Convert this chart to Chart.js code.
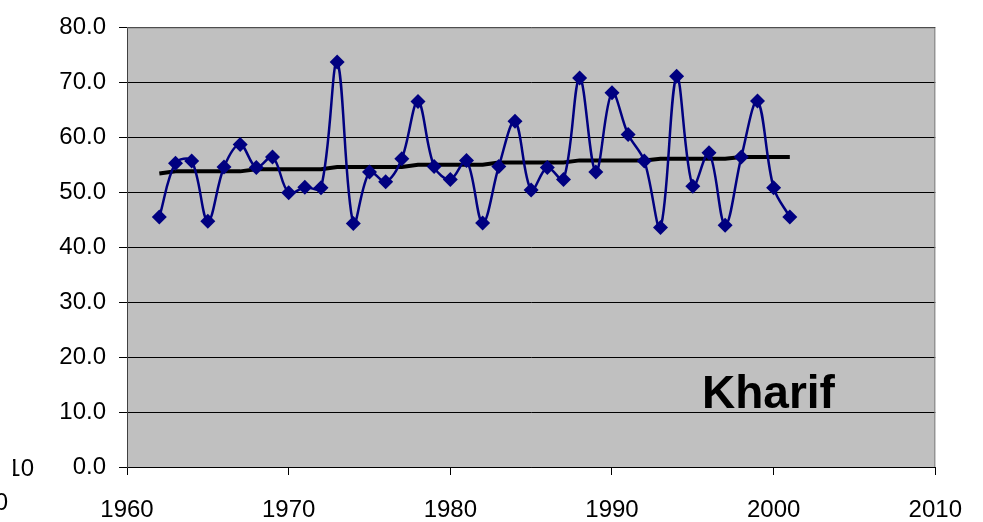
<!DOCTYPE html>
<html>
<head>
<meta charset="utf-8">
<script src="https://cdn.jsdelivr.net/npm/chart.js@4/dist/chart.umd.min.js"></script>
<style>
  html, body { margin: 0; padding: 0; background: #fff; }
  #wrap { width: 983px; height: 522px; }
</style>
</head>
<body>
<div id="wrap"><canvas id="chart"></canvas></div>
<script>
const years = [1962, 1963, 1964, 1965, 1966, 1967, 1968, 1969, 1970, 1971,
               1972, 1973, 1974, 1975, 1976, 1977, 1978, 1979, 1980, 1981,
               1982, 1983, 1984, 1985, 1986, 1987, 1988, 1989, 1990, 1991,
               1992, 1993, 1994, 1995, 1996, 1997, 1998, 1999, 2000, 2001];
const kharif = [45.5, 55.3, 55.7, 44.7, 54.6, 58.7, 54.5, 56.4, 49.9, 50.9,
                50.8, 73.7, 44.3, 53.7, 51.9, 56.1, 66.5, 54.7, 52.3, 55.8,
                44.4, 54.7, 62.9, 50.4, 54.5, 52.3, 70.8, 53.7, 68.1, 60.5,
                55.7, 43.6, 71.1, 51.1, 57.2, 44.0, 56.4, 66.6, 50.8, 45.5];
const trend = [53.4, 53.8, 53.8, 53.8, 53.8, 53.8, 54.2, 54.2, 54.2, 54.2,
               54.2, 54.6, 54.6, 54.6, 54.6, 54.6, 55.0, 55.0, 55.0, 55.0,
               55.0, 55.4, 55.4, 55.4, 55.4, 55.4, 55.8, 55.8, 55.8, 55.8,
               55.8, 56.1, 56.1, 56.1, 56.1, 56.1, 56.4, 56.4, 56.4, 56.4];
const yTicks = [0, 10, 20, 30, 40, 50, 60, 70, 80];
const xTicks = [1960, 1970, 1980, 1990, 2000, 2010];
const label = 'Kharif';

const FONT = '"Liberation Sans", Arial, sans-serif';

const plotBg = {
  id: 'plotBg',
  beforeDraw(chart) {
    const a = chart.chartArea, c = chart.ctx;
    c.save();
    c.fillStyle = '#c0c0c0';
    c.fillRect(a.left, a.top, a.right - a.left, a.bottom - a.top);
    c.restore();
  },
  afterDraw(chart) {
    const a = chart.chartArea, c = chart.ctx;
    c.save();
    c.strokeStyle = '#808080';
    c.lineWidth = 1;
    c.beginPath();
    c.moveTo(a.left, a.top + 0.5);
    c.lineTo(a.right - 0.5, a.top + 0.5);
    c.lineTo(a.right - 0.5, a.bottom);
    c.stroke();

    c.fillStyle = '#000';
    c.font = 'bold 46px ' + FONT;
    c.textAlign = 'left';
    c.textBaseline = 'alphabetic';
    c.fillText(label, 702, 408);

    // clipped fragments at the left edge
    c.font = '24px ' + FONT;
    c.textAlign = 'right';
    c.save();
    c.beginPath();
    c.rect(13, 440, 40, 50);
    c.clip();
    c.fillText('10', 34, 476);
    c.restore();
    c.fillText('0', 8, 510);
    c.restore();
  }
};

new Chart(document.getElementById('chart'), {
  type: 'line',
  data: {
    datasets: [{
      label: label,
      data: years.map((y, i) => ({ x: y, y: kharif[i] })),
      borderColor: '#000080',
      backgroundColor: '#000080',
      borderWidth: 2.5,
      tension: 0.35,
      pointStyle: 'rectRot',
      pointRadius: 7.5,
      pointBorderWidth: 0,
      pointHoverRadius: 7.5
    }, {
      label: 'Trend',
      data: years.map((y, i) => ({ x: y, y: trend[i] })),
      borderColor: '#000',
      borderWidth: 4,
      tension: 0,
      pointRadius: 0
    }]
  },
  options: {
    responsive: true,
    maintainAspectRatio: false,
    animation: false,
    layout: { padding: { left: 0, right: 47, top: 27, bottom: 0 } },
    plugins: { legend: { display: false }, tooltip: { enabled: false } },
    scales: {
      x: {
        type: 'linear',
        min: 1960, max: 2010,
        afterBuildTicks: s => { s.ticks = xTicks.map(v => ({ value: v })); },
        afterFit: s => { s.height = 55; },
        ticks: {
          color: '#000',
          font: { family: FONT, size: 24 },
          padding: 21,
          maxRotation: 0,
          callback: v => String(v)
        },
        grid: { drawOnChartArea: false, drawTicks: true, tickLength: 8, color: '#000' },
        border: { color: '#000', width: 1 }
      },
      y: {
        min: 0, max: 80,
        afterBuildTicks: s => { s.ticks = yTicks.map(v => ({ value: v })); },
        afterFit: s => { s.width = 127; },
        ticks: {
          color: '#000',
          font: { family: FONT, size: 24 },
          padding: 13,
          callback: v => v.toFixed(1)
        },
        grid: { color: '#000', lineWidth: 1, tickLength: 8 },
        border: { color: '#404040', width: 1 }
      }
    }
  },
  plugins: [plotBg]
});
</script>
</body>
</html>
